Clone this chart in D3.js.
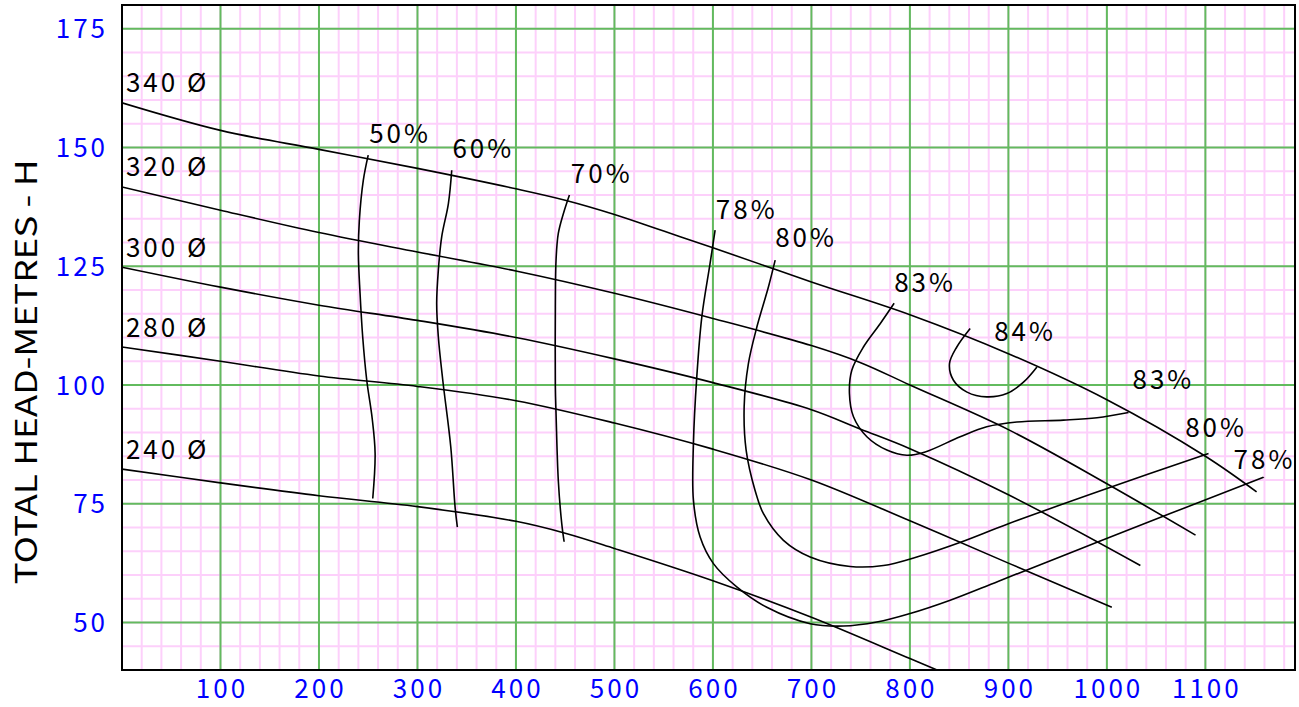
<!DOCTYPE html>
<html>
<head>
<meta charset="utf-8">
<script src="https://cdn.jsdelivr.net/npm/d3@7"></script>
<style>
  body { margin: 0; background: #fff; }
  text { font-family: "Noto Sans CJK JP", "Noto Sans", sans-serif; }
</style>
</head>
<body>
<div id="chart"></div>
<script>
// Axis ticks
var xTicks = [100, 200, 300, 400, 500, 600, 700, 800, 900, 1000, 1100];
var yTicks = [50, 75, 100, 125, 150, 175];

// Impeller diameter head curves [flow, head]
var head340 = [[0,159.4],[100,153.6],[200,149.6],[300,145.6],[400,141.3],[450,138.9],[500,135.9],[550,132.4],[600,128.9],[700,121.7],[800,114.8],[900,106.6],[1000,96.9],[1100,85],[1152,77.5]];
var head320 = [[0,141.7],[100,136.8],[200,132.1],[300,128],[400,124],[500,119.3],[600,114],[700,108.3],[750,104.7],[800,100],[900,90.6],[1000,79.2],[1090,68.4]];
var head300 = [[0,124.8],[100,120.6],[200,116.8],[300,113.6],[400,110],[500,105.5],[600,100.5],[700,94.8],[750,90.7],[800,86.6],[900,76.9],[1034,62]];
var head280 = [[0,108],[100,105],[200,101.9],[300,99.7],[400,96.7],[500,92],[600,86.5],[700,80],[800,71.4],[900,62.5],[1005,53.2]];
var head240 = [[0,82.3],[100,79.4],[200,76.7],[300,74.4],[400,71.3],[450,68.8],[500,65.6],[600,58.8],[700,51.1],[800,42.4],[831,39.7]];
var headNames = ["340 Ø", "320 Ø", "300 Ø", "280 Ø", "240 Ø"];

// Efficiency iso-lines
var eff50 = [[250,148.4],[245,143.1],[241,134.7],[240,127.7],[241.7,119.3],[244.4,110.1],[248.5,101],[254,93],[257,85.6],[254.6,76.1]];
var eff60 = [[334.8,145.2],[331.4,138.2],[324.6,131.2],[321.2,124.2],[319.5,117.2],[321.2,110.1],[325.7,101],[333.8,87],[338.2,74.3],[340.5,70.1]];
var eff70 = [[454.3,140],[448.2,136.1],[443,131.9],[440.7,126.3],[440,116.4],[440,99.6],[440.7,94],[443,79.9],[446.5,70.8],[448.9,67]];
var eff78 = [[602.2,132.6],[597.1,125.6],[588.7,114.3],[583.6,101.7],[580.2,87.7],[580.2,75.7],[587,68],[600.5,62.4],[624.2,57.5],[654.7,53.2],[698.7,49.75],[732.5,49.25],[766.4,50.1],[800.2,51.9],[840.9,54.7],[890,58.7],[990,66.9],[1159,80.6]];
var eff80 = [[663.2,126.3],[656.4,120.7],[644.6,112.2],[636,104.5],[631.7,95.4],[633.7,86.3],[642.8,77.8],[651.3,72.9],[671.6,67.3],[698.7,63.8],[739.3,61.8],[773.1,62],[807,63.8],[850,66.8],[900,70.8],[1000,78.2],[1103.2,85.6]];
var eff83 = [[784,117.2],[769.8,112.9],[752.8,108],[741,103.1],[738.6,98.2],[742.7,93.3],[756.3,89.1],[776.6,86.3],[796.9,85.2],[815.5,85.9],[851,89.1],[878,91.2],[908.6,92.2],[956,92.6],[990,93.1],[1022,94.2]];
var eff84 = [[861.2,111.9],[847.6,108],[840.2,104.5],[844.2,101],[858,98.5],[878,97.5],[898.4,98.2],[915.3,100.6],[929,103.8]];

// Efficiency labels [text, flow, head]
var effLabels = [["50%",252,150.9],["60%",336.5,147.7],["70%",456.7,142.6],["78%",604,134.9],["80%",664.2,129],["83%",785,119.5],["84%",886.6,109.3],["83%",1027,99.1],["80%",1080.5,89.1],["78%",1129.6,82.4]];

var W = 1299, H = 707;
var margin = {top: 5, right: 4, bottom: 37, left: 122},
    width = W - margin.left - margin.right,
    height = H - margin.top - margin.bottom,
    font_size = 26,
    spacing = 3;

var xScale = d3.scaleLinear().domain([0, 1191]).range([0, width]);
var yScale = d3.scaleLinear().domain([40, 180]).range([height, 0]);

var svg = d3.select("#chart").append("svg")
    .attr("width", W)
    .attr("height", H);

var g = svg.append("g")
    .attr("transform", "translate(" + margin.left + "," + margin.top + ")");

g.append("clipPath").attr("id", "plotclip")
  .append("rect").attr("width", width).attr("height", height);

// Minor grid (pink)
var minorX = d3.range(20, 1191, 20),
    minorY = d3.range(45, 180, 5);

g.append("g").selectAll("line")
  .data(minorX).enter().append("line")
    .attr("x1", function(d) { return xScale(d); })
    .attr("x2", function(d) { return xScale(d); })
    .attr("y1", 0).attr("y2", height)
    .attr("stroke", "#fdd0fb").attr("stroke-width", 2);

g.append("g").selectAll("line")
  .data(minorY).enter().append("line")
    .attr("y1", function(d) { return yScale(d); })
    .attr("y2", function(d) { return yScale(d); })
    .attr("x1", 0).attr("x2", width)
    .attr("stroke", "#fdd0fb").attr("stroke-width", 2);

// Major grid (green)
g.append("g").selectAll("line")
  .data(xTicks).enter().append("line")
    .attr("x1", function(d) { return xScale(d); })
    .attr("x2", function(d) { return xScale(d); })
    .attr("y1", 0).attr("y2", height)
    .attr("stroke", "#62bb5e").attr("stroke-width", 2);

g.append("g").selectAll("line")
  .data(yTicks).enter().append("line")
    .attr("y1", function(d) { return yScale(d); })
    .attr("y2", function(d) { return yScale(d); })
    .attr("x1", 0).attr("x2", width)
    .attr("stroke", "#62bb5e").attr("stroke-width", 2);

// Curves
var line = d3.line()
    .x(function(d) { return xScale(d[0]); })
    .y(function(d) { return yScale(d[1]); })
    .curve(d3.curveCatmullRom.alpha(0.5));

var curves = [head340, head320, head300, head280, head240,
              eff50, eff60, eff70, eff78, eff80, eff83, eff84];

g.append("g").attr("clip-path", "url(#plotclip)")
  .selectAll("path")
  .data(curves).enter().append("path")
    .attr("d", line)
    .attr("fill", "none")
    .attr("stroke", "#000")
    .attr("stroke-width", 1.6);

// Diameter labels
var heads = [head340, head320, head300, head280, head240];
g.append("g").selectAll("text")
  .data(headNames).enter().append("text")
    .attr("x", xScale(4))
    .attr("y", function(d, i) { return yScale(heads[i][0][1] + 2.2); })
    .attr("font-size", font_size)
    .attr("letter-spacing", spacing)
    .attr("fill", "#000")
    .text(function(d) { return d; });

// Efficiency labels
g.append("g").selectAll("text")
  .data(effLabels).enter().append("text")
    .attr("x", function(d) { return xScale(d[1]) - 1; })
    .attr("y", function(d) { return yScale(d[2]); })
    .attr("font-size", font_size)
    .attr("letter-spacing", spacing)
    .attr("fill", "#000")
    .text(function(d) { return d[0]; });

// Frame
g.append("rect")
  .attr("width", width).attr("height", height)
  .attr("fill", "none")
  .attr("stroke", "#000")
  .attr("stroke-width", 2);

// Tick labels
g.append("g").selectAll("text")
  .data(xTicks).enter().append("text")
    .attr("x", function(d) { return xScale(d) + spacing / 2; })
    .attr("y", height + 28)
    .attr("text-anchor", "middle")
    .attr("font-size", font_size)
    .attr("letter-spacing", spacing)
    .attr("fill", "#0000ff")
    .text(function(d) { return d; });

g.append("g").selectAll("text")
  .data(yTicks).enter().append("text")
    .attr("x", -17 + spacing)
    .attr("y", function(d) { return yScale(d) + 9.5; })
    .attr("text-anchor", "end")
    .attr("font-size", font_size)
    .attr("letter-spacing", spacing)
    .attr("fill", "#0000ff")
    .text(function(d) { return d; });

// Axis title
svg.append("text")
  .attr("transform", "translate(37," + 372 + ") rotate(-90)")
  .attr("text-anchor", "middle")
  .attr("font-size", 30)
  .attr("textLength", 425)
  .attr("lengthAdjust", "spacingAndGlyphs")
  .attr("fill", "#000")
  .text("TOTAL HEAD-METRES -  H");
</script>
</body>
</html>
